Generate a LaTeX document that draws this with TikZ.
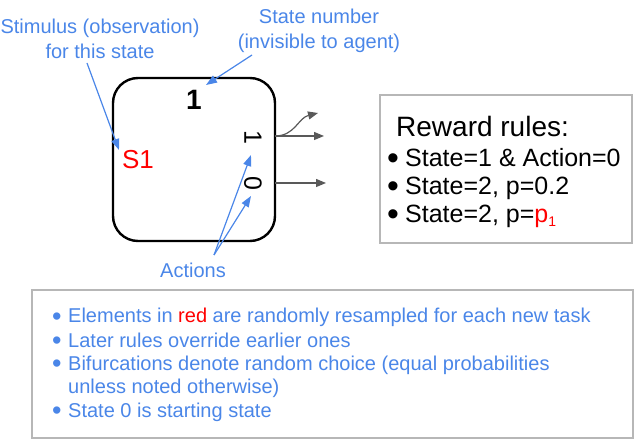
\documentclass[tikz,border=0pt]{standalone}
\usepackage{fontspec}
\setmainfont{Liberation Sans}
\usepackage{xcolor,tikz}
\usetikzlibrary{arrows.meta,positioning,calc}
\definecolor{noteblue}{HTML}{4A86E8}
\definecolor{arrgray}{HTML}{595959}
\definecolor{boxgray}{HTML}{B7B7B7}
\newcommand{\bigbul}[1]{\makebox[#1][l]{\smash{\raisebox{-0.1em}{\scalebox{1.35}{\textbullet}}}}}

\begin{document}
\begin{tikzpicture}[x=1pt,y=-1pt,
  note/.style={text=noteblue,align=center,font=\fontsize{20}{24.5}\selectfont,inner sep=0pt},
  noteline/.style={text=noteblue,anchor=base west,font=\fontsize{20}{20}\selectfont,inner sep=0pt},
  ruleline/.style={anchor=base west,font=\fontsize{25}{25}\selectfont,inner sep=0pt},
  narr/.style={-{Triangle[length=11pt,width=8pt]},noteblue,line width=1.2pt},
  garr/.style={-{Triangle[length=10pt,width=8pt]},arrgray,line width=1.2pt},
  frame/.style={draw=boxgray,line width=1.2pt}]
\useasboundingbox (0,0) rectangle (637,446);
% state box
\node[draw,line width=2.4pt,rounded corners=25pt,minimum width=162pt,minimum height=163pt,inner sep=0pt] (state) at (194,159.5) {};
\node[font=\fontsize{28}{28}\selectfont\bfseries,inner sep=0pt] (num) at (194,100) {1};
\node[text=red,font=\fontsize{26}{26}\selectfont,inner sep=0pt] (stim) at (138,160) {S1};
\node[rotate=-90,font=\fontsize{25}{25}\selectfont,inner sep=0pt] (act1) at (253,137) {1};
\node[rotate=-90,font=\fontsize{25}{25}\selectfont,inner sep=0pt] (act0) at (253,183) {0};
\coordinate (out1) at (275,136);
\coordinate (out0) at (275,183);
\coordinate (to1a) at (318,113);
\coordinate (to1b) at (324,136);
\coordinate (to0) at (326,183);
\draw[garr] (out1) .. controls (295,136) and (298,118) .. (to1a);
\draw[garr] (out1) -- (to1b);
\draw[garr] (out0) -- (to0);
% annotations
\node[note] (stimtxt) at (100,39) {Stimulus (observation)\\for this state};
\node[note] (numtxt) at (319,31) {State number\\(invisible to agent)};
\node[note] (acttxt) at (193,270) {Actions};
\coordinate (stimfrom) at (87,63);
\coordinate (stimto) at (119,150);
\coordinate (numfrom) at (252,55);
\coordinate (numto) at (206,85);
\coordinate (actfrom) at (214,255);
\draw[narr] (stimfrom) -- (stimto);
\draw[narr] (numfrom) -- (numto);
\draw[narr] (actfrom) -- (251,155);
\draw[narr] (actfrom) -- (251,196);
% reward rules
\node[frame,minimum width=252pt,minimum height=148pt,inner sep=0pt] (rewardbox) at (506,169) {};
\node[anchor=base west,font=\fontsize{28}{28}\selectfont,inner sep=0pt] (rwtitle) at (396,137) {Reward rules:};
\node[ruleline] (rw1) at (387,167) {\bigbul{18pt}State=1 \& Action=0};
\node[ruleline] (rw2) at (387,195) {\bigbul{18pt}State=2, p=0.2};
\node[ruleline] (rw3) at (387,223) {\bigbul{18pt}State=2, p=\textcolor{red}{p\textsubscript{\fontsize{14}{14}\selectfont1}}};
% notes
\node[frame,minimum width=601pt,minimum height=148pt,inner sep=0pt] (notebox) at (332.5,364) {};
\node[noteline] (n1) at (52,323) {\bigbul{16pt}Elements in \textcolor{red}{red} are randomly resampled for each new task};
\node[noteline] (n2) at (52,347) {\bigbul{16pt}Later rules override earlier ones};
\node[noteline] (n3) at (52,370) {\bigbul{16pt}Bifurcations denote random choice (equal probabilities};
\node[noteline] (n4) at (68,393) {unless noted otherwise)};
\node[noteline] (n5) at (52,417) {\bigbul{16pt}State 0 is starting state};
\end{tikzpicture}
\end{document}
